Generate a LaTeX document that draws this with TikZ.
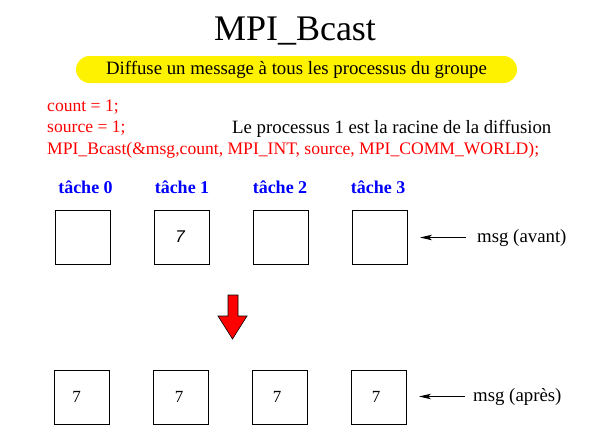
\documentclass[tikz,border=0pt]{standalone}
\usepackage{fontspec}
\setmainfont{Liberation Serif}
\setsansfont{Liberation Sans}
\usetikzlibrary{arrows.meta}

\tikzset{
  cell/.style={draw=black, line width=0.9pt, minimum width=55pt, minimum height=54pt, inner sep=0pt},
  val/.style={inner sep=0pt, font=\fontsize{17}{20}\selectfont},
  task/.style={anchor=base, inner sep=0pt, text=blue, font=\bfseries\fontsize{18}{21}\selectfont},
  code/.style={anchor=base west, inner sep=0pt, text=red, font=\fontsize{17.6}{21}\selectfont},
  note/.style={anchor=base west, inner sep=0pt, font=\fontsize{18.8}{22}\selectfont},
  ptr/.style={line width=0.9pt, -{Stealth[length=12pt,width=5.5pt,inset=3pt]}},
}

\begin{document}
\begin{tikzpicture}[x=1pt, y=-1pt]
  \useasboundingbox[fill=white] (0,0) rectangle (593,447);

  % title and caption bar
  \node[anchor=base, inner sep=0pt, font=\fontsize{36}{40}\selectfont] (title) at (295,40) {MPI\_Bcast};
  \node[fill=yellow, rounded corners=13.5pt, minimum width=441pt, minimum height=27pt, inner sep=0pt,
        font=\fontsize{18.8}{22}\selectfont] (bar) at (296.5,69.5)
        {Diffuse un message à tous les processus du groupe};

  % code fragment
  \node[code] (c1) at (47,111) {count = 1;};
  \node[code] (c2) at (47,132) {source = 1;};
  \node[code] (c3) at (47,154) {MPI\_Bcast(\&msg,count, MPI\_INT, source, MPI\_COMM\_WORLD);};
  \node[note] (root) at (232,133) {Le processus 1 est la racine de la diffusion};

  % task labels
  \node[task] (t0) at (85.5,193) {tâche 0};
  \node[task] (t1) at (182,193) {tâche 1};
  \node[task] (t2) at (280,193) {tâche 2};
  \node[task] (t3) at (378,193) {tâche 3};

  % buffers before the broadcast
  \node[cell] (a0) at (82.5,237) {};
  \node[cell] (a1) at (181.5,237) {};
  \node[cell] (a2) at (280.5,237) {};
  \node[cell] (a3) at (379.5,237) {};
  \node[val, font=\sffamily\itshape\fontsize{17}{20}\selectfont] (va1) at ([xshift=-1.5pt]a1.center) {7};

  % buffers after the broadcast
  \node[cell] (b0) at (81.5,397) {};
  \node[cell] (b1) at (180.5,397) {};
  \node[cell] (b2) at (279.5,397) {};
  \node[cell] (b3) at (378.5,397) {};
  \node[val] (vb0) at ([xshift=-5pt]b0.center) {7};
  \node[val] (vb1) at ([xshift=-1.5pt]b1.center) {7};
  \node[val] (vb2) at ([xshift=-2.5pt]b2.center) {7};
  \node[val] (vb3) at ([xshift=-2.5pt]b3.center) {7};

  % labels with pointers
  \node[note] (avant) at (477,242) {msg (avant)};
  \node[note] (apres) at (473,401) {msg (après)};
  \coordinate (pa) at ([xshift=-57pt]avant.west);
  \coordinate (pb) at ([xshift=-54pt]apres.west);
  \draw[ptr] ([xshift=-11pt]avant.west) -- (pa);
  \draw[ptr] ([xshift=-8pt]apres.west) -- (pb);

  % broadcast arrow
  \draw[fill=red, draw=black, line width=0.6pt, line join=miter]
    (228,295) -- (238,295) -- (238,316) -- (247,316) -- (232.5,339)
    -- (218,316) -- (228,316) -- cycle;
\end{tikzpicture}
\end{document}
